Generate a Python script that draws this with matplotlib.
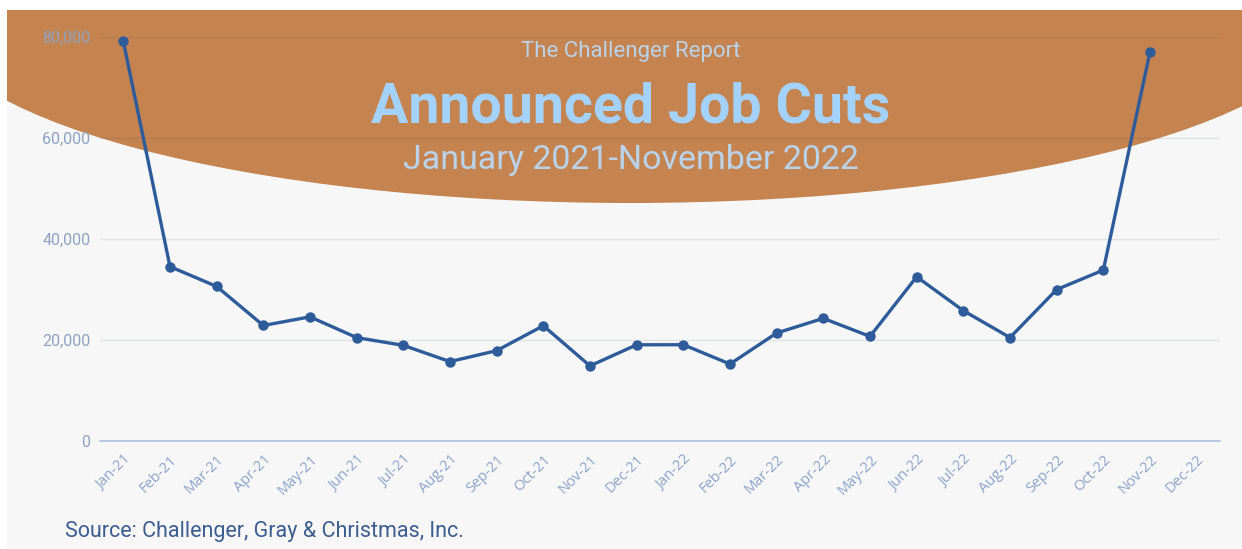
import matplotlib.pyplot as plt
import matplotlib.transforms as mtransforms
from matplotlib.patches import Ellipse, Rectangle

months = ["Jan-21", "Feb-21", "Mar-21", "Apr-21", "May-21", "Jun-21", "Jul-21", "Aug-21",
          "Sep-21", "Oct-21", "Nov-21", "Dec-21", "Jan-22", "Feb-22", "Mar-22", "Apr-22",
          "May-22", "Jun-22", "Jul-22", "Aug-22", "Sep-22", "Oct-22", "Nov-22", "Dec-22"]
job_cuts = [79135, 34531, 30603, 22874, 24586, 20476, 18942, 15723, 17895, 22822, 14875,
            19052, 19064, 15245, 21387, 24286, 20712, 32517, 25810, 20485, 29989, 33843, 77044]
y_ticks = [0, 20000, 40000, 60000, 80000]

W, H = 1242, 549
fig = plt.figure(figsize=(W / 100, H / 100), dpi=100)
fig.patch.set_facecolor("white")

# grey panel and orange header
panel = Rectangle((7 / W, 0), 1 - 7 / W, (H - 10) / H, transform=fig.transFigure,
                  facecolor="#f7f7f7", edgecolor="none", zorder=0)
fig.patches.append(panel)
header = Ellipse((630 / W, (H - 15) / H), 1400 / W, 376 / H, transform=fig.transFigure,
                 facecolor="#c4834f", edgecolor="none", zorder=1)
header.set_clip_path(panel)
fig.patches.append(header)

ax = fig.add_axes([100 / W, (H - 441) / H, 1120 / W, 404 / H])
ax.set_zorder(5)
ax.set_facecolor("none")
x = list(range(len(job_cuts)))
ax.plot(x, job_cuts, color="#2e5c9a", lw=2.4, marker="o", ms=6.5, zorder=3, clip_on=False)

ax.set_xlim(-0.5, len(months) - 0.5)
ax.set_ylim(0, 80000)
ax.set_yticks(y_ticks)
ax.set_yticklabels([f"{v:,}" for v in y_ticks], fontfamily="Roboto", fontsize=11.5, color="#8ea3c2")
ax.set_xticks(range(len(months)))
ax.set_xticklabels(months, rotation=45, ha="right", rotation_mode="anchor",
                   fontfamily="Open Sans", fontsize=10.5, color="#8aa4c9")
shift = mtransforms.ScaledTranslation(9 / 100, 0, fig.dpi_scale_trans)
for lbl in ax.get_xticklabels():
    lbl.set_transform(lbl.get_transform() + shift)
ax.tick_params(length=0, pad=7)
ax.tick_params(axis="x", pad=8)
ax.grid(axis="y", color="#4a5670", alpha=0.13, lw=1)
for s in ["top", "right", "left"]:
    ax.spines[s].set_visible(False)
ax.spines["bottom"].set_color("#a9c0de")
ax.spines["bottom"].set_linewidth(1.2)

fig.text(631 / W, 1 - 52 / H, "The Challenger Report", ha="center", va="center",
         fontfamily="Roboto", fontsize=16, color="#b9d3ea", zorder=6)
fig.text(631 / W, 1 - 107 / H, "Announced Job Cuts", ha="center", va="center",
         fontfamily="Roboto", fontweight="bold", fontsize=40, color="#a3d2fd", zorder=6)
fig.text(631 / W, 1 - 160 / H, "January 2021-November 2022", ha="center", va="center",
         fontfamily="Roboto", fontsize=24.5, color="#b9d3ea", zorder=6)
fig.text(65 / W, 1 - 532 / H, "Source: Challenger, Gray & Christmas, Inc.", ha="left", va="center",
         fontfamily="Roboto", fontsize=15.5, color="#3b5d90", zorder=6)

fig.savefig("out.png", dpi=100)
